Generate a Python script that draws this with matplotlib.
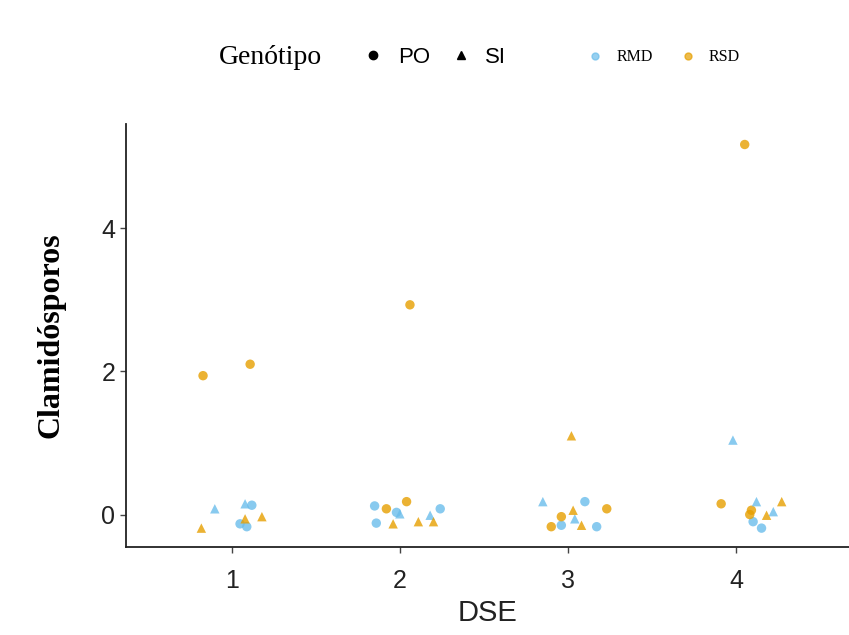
"""
Clamidósporos por DSE, genotipo y tratamiento (puntos con jitter).
"""

import numpy as np
import matplotlib.pyplot as plt
from matplotlib.lines import Line2D

# Datos
dse = [1] * 10 + [2] * 12 + [3] * 11 + [4] * 11
jitter = [-0.10, -0.18, 0.08, 0.12, 0.08, 0.05, 0.09, 0.18, -0.17, 0.11,
          -0.15, -0.14, -0.08, 0.04, 0.00, -0.04, 0.11, 0.20, 0.18, 0.24, 0.06, -0.02,
          -0.15, -0.04, 0.03, 0.10, 0.23, -0.10, -0.04, 0.04, 0.08, 0.17, 0.02,
          -0.09, 0.09, 0.12, 0.18, 0.22, 0.27, 0.10, 0.15, 0.08, -0.02, 0.05]
clamidosporos = [0.08, -0.19, 0.15, 0.13, -0.06, -0.13, -0.17, -0.03, 1.94, 2.10,
                 0.12, -0.12, 0.08, 0.18, 0.01, -0.13, -0.10, -0.10, -0.01, 0.08, 2.93, 0.03,
                 0.18, -0.03, 0.06, 0.18, 0.08, -0.17, -0.15, -0.06, -0.15, -0.17, 1.10,
                 0.15, 0.06, 0.18, -0.01, 0.04, 0.18, -0.10, -0.19, 0.00, 1.04, 5.17]
genotipo = ['SI', 'SI', 'SI', 'PO', 'SI', 'PO', 'PO', 'SI', 'PO', 'PO',
            'PO', 'PO', 'PO', 'PO', 'SI', 'SI', 'SI', 'SI', 'SI', 'PO', 'PO', 'PO',
            'SI', 'PO', 'SI', 'PO', 'PO', 'PO', 'PO', 'SI', 'SI', 'PO', 'SI',
            'PO', 'PO', 'SI', 'SI', 'SI', 'SI', 'PO', 'PO', 'PO', 'SI', 'PO']
tratamiento = ['RMD', 'RSD', 'RMD', 'RMD', 'RSD', 'RMD', 'RMD', 'RSD', 'RSD', 'RSD',
               'RMD', 'RMD', 'RSD', 'RSD', 'RMD', 'RSD', 'RSD', 'RSD', 'RMD', 'RMD', 'RSD', 'RMD',
               'RMD', 'RSD', 'RSD', 'RMD', 'RSD', 'RSD', 'RMD', 'RMD', 'RSD', 'RMD', 'RSD',
               'RSD', 'RSD', 'RMD', 'RSD', 'RMD', 'RSD', 'RMD', 'RMD', 'RSD', 'RMD', 'RSD']

colores = {'RMD': '#6BBDEB', 'RSD': '#E69F00'}
marcadores = {'PO': 'o', 'SI': '^'}

x = np.array(dse) + np.array(jitter)
y = np.array(clamidosporos)
gen = np.array(genotipo)
trat = np.array(tratamiento)

sans = 'Liberation Sans'
serif = 'Liberation Serif'

fig = plt.figure(figsize=(8.49, 6.35), dpi=100)
ax = fig.add_axes([0.148, 0.139, 0.852, 0.665])

for g, m in marcadores.items():
    for t, c in colores.items():
        sel = (gen == g) & (trat == t)
        ax.scatter(x[sel], y[sel], marker=m, s=46, color=c, alpha=0.8,
                   edgecolors='none', zorder=3)

ax.set_xlim(0.37, 4.67)
ax.set_ylim(-0.45, 5.45)
ax.set_xticks([1, 2, 3, 4])
ax.set_yticks([0, 2, 4])
for s in ['top', 'right']:
    ax.spines[s].set_visible(False)
for s in ['left', 'bottom']:
    ax.spines[s].set_linewidth(1.3)
    ax.spines[s].set_color('#222222')
ax.tick_params(labelsize=18, length=4, width=1, color='#444444', labelcolor='#222222')
ax.tick_params(axis='x', pad=12)
for lab in ax.get_xticklabels() + ax.get_yticklabels():
    lab.set_family(sans)
ax.set_xlabel('DSE', fontsize=21, family=sans, color='#222222', labelpad=4)
ax.set_ylabel('Clamidósporos', fontsize=23, family=serif,
              fontweight='bold', labelpad=26)

# Leyenda superior
fig.text(0.258, 0.91, 'Genótipo', fontsize=20, family=serif,
         va='center', ha='left')
h_gen = [Line2D([], [], marker=marcadores[g], color='black', linestyle='none',
                markersize=6) for g in marcadores]
leg1 = fig.legend(h_gen, list(marcadores), loc='center left',
                  bbox_to_anchor=(0.403, 0.91), ncol=2, frameon=False,
                  prop={'family': sans, 'size': 16}, handletextpad=0.6,
                  columnspacing=0.9, handlelength=1.0)
h_col = [Line2D([], [], marker='o', color=colores[t], alpha=0.7, linestyle='none',
                markersize=5) for t in colores]
leg2 = fig.legend(h_col, list(colores), loc='center left',
                  bbox_to_anchor=(0.675, 0.91), ncol=2, frameon=False,
                  prop={'family': serif, 'size': 11.5},
                  handletextpad=0.8, columnspacing=1.7, handlelength=1.0)

fig.savefig('out.png', dpi=100)
